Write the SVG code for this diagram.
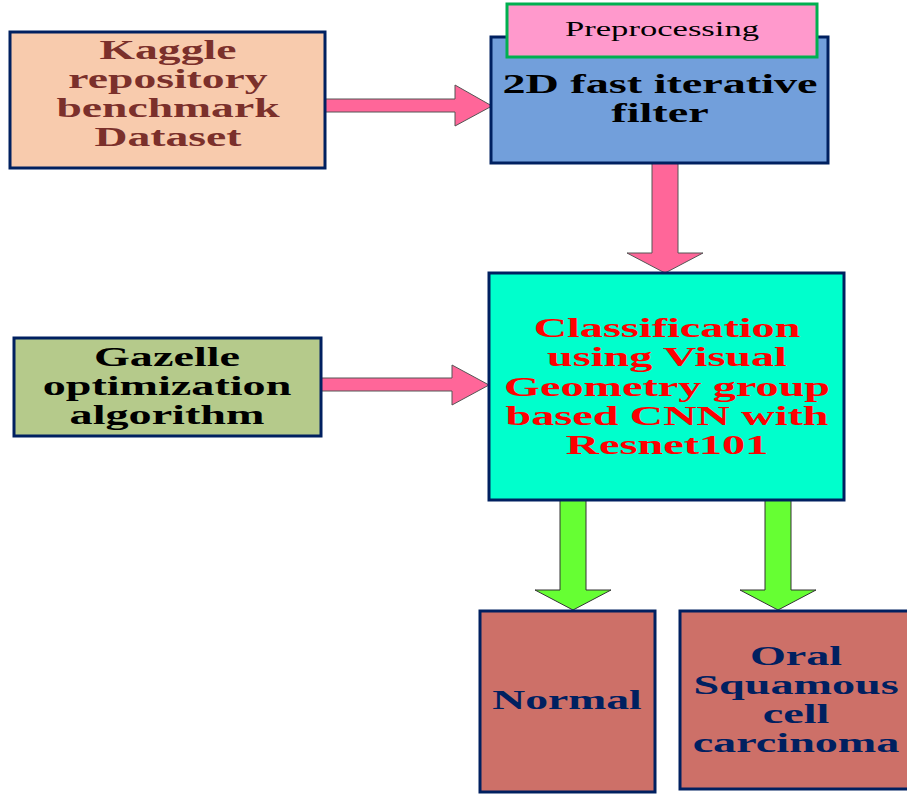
<svg xmlns="http://www.w3.org/2000/svg" width="907" height="795" viewBox="0 0 907 795">
<style>
.box{stroke:#002060;stroke-width:3}
.t{font-family:"Liberation Serif","Times New Roman",serif;font-weight:bold;font-size:27px;text-anchor:middle}
.p{font-family:"Liberation Serif","Times New Roman",serif;font-size:20px;text-anchor:middle}
.pa{fill:#FF6699;stroke:#555;stroke-width:1}
.ga{fill:#66FF33;stroke:#333;stroke-width:1}
</style>
<rect width="907" height="795" fill="#fff"/>
<g id="connectors">
<polygon class="pa" points="325,99 455,99 455,85 492,106 455,126 455,112 325,112"/>
<polygon class="pa" points="321,378 452,378 452,365 489,385 452,405 452,391 321,391"/>
<polygon class="pa" points="652,163 678,163 678,253 703,253 665,273 627,253 652,253"/>
<polygon class="ga" points="560,500 586,500 586,590 611,590 573,610 535,590 560,590"/>
<polygon class="ga" points="765,500 791,500 791,590 816,590 778,610 740,590 765,590"/>
</g>
<g id="kaggle">
<rect class="box" x="10" y="32" width="315" height="136" fill="#F8CBAD"/>
<g transform="translate(168,0) scale(1.69,1)" class="t" fill="#7B302B">
<text x="0" y="59">Kaggle</text>
<text x="0" y="88">repository</text>
<text x="0" y="117">benchmark</text>
<text x="0" y="146">Dataset</text>
</g>
</g>
<g id="filter">
<rect class="box" x="491" y="37" width="337" height="126" fill="#729FDB"/>
<g transform="translate(660,0) scale(1.71,1)" class="t" fill="#000">
<text x="0" y="93">2D fast iterative</text>
<text x="0" y="122">filter</text>
</g>
</g>
<g id="preprocessing">
<rect x="507" y="4" width="310" height="53" fill="#FF99CC" stroke="#00B050" stroke-width="3"/>
<g transform="translate(662,0) scale(1.73,1)" class="p" fill="#000">
<text x="0" y="36">Preprocessing</text>
</g>
</g>
<g id="classification">
<rect class="box" x="489" y="273" width="355" height="227" fill="#00FFCC"/>
<g transform="translate(667,0) scale(1.71,1)" class="t" fill="#FF0000">
<text x="0" y="337">Classification</text>
<text x="0" y="366">using Visual</text>
<text x="0" y="396">Geometry group</text>
<text x="0" y="425">based CNN with</text>
<text x="0" y="454">Resnet101</text>
</g>
</g>
<g id="gazelle">
<rect class="box" x="14" y="338" width="307" height="98" fill="#B5CA8B"/>
<g transform="translate(167,0) scale(1.71,1)" class="t" fill="#000">
<text x="0" y="366">Gazelle</text>
<text x="0" y="395">optimization</text>
<text x="0" y="424">algorithm</text>
</g>
</g>
<g id="normal">
<rect class="box" x="480" y="611" width="175" height="181" fill="#CD7068"/>
<g transform="translate(567,0) scale(1.69,1)" class="t" fill="#002060">
<text x="0" y="709">Normal</text>
</g>
</g>
<g id="oscc">
<rect class="box" x="680" y="611" width="230" height="178" fill="#CD7068"/>
<g transform="translate(796,0) scale(1.71,1)" class="t" fill="#002060">
<text x="0" y="665">Oral</text>
<text x="0" y="694">Squamous</text>
<text x="0" y="723">cell</text>
<text x="0" y="752">carcinoma</text>
</g>
</g>
</svg>
